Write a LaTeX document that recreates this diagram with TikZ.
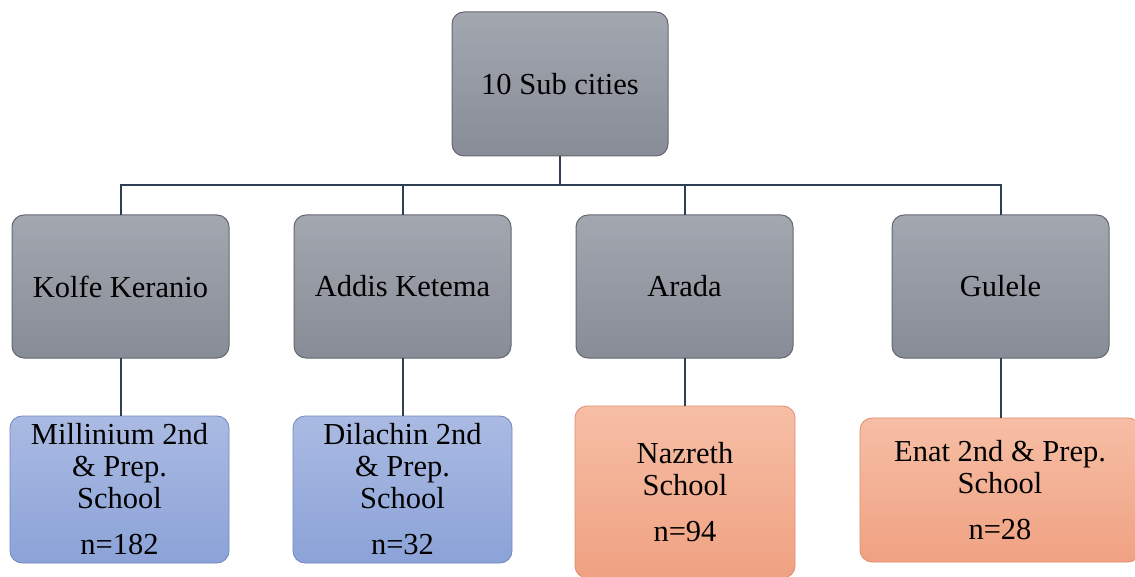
\documentclass[tikz,border=0pt]{standalone}
\usepackage{fontspec}
\setmainfont{Liberation Serif}
\begin{document}
\begin{tikzpicture}[x=1pt,y=-1pt,
  every node/.style={inner sep=0pt, outer sep=0pt, align=center, font=\fontsize{30.5}{32}\selectfont},
  greybox/.style={draw={rgb,255:red,100;green,104;blue,112}, line width=1pt, rounded corners=12pt, top color={rgb,255:red,163;green,167;blue,176}, bottom color={rgb,255:red,136;green,140;blue,150}},
  bluebox/.style={draw={rgb,255:red,112;green,136;blue,192}, line width=0.8pt, rounded corners=12pt, top color={rgb,255:red,170;green,186;blue,226}, bottom color={rgb,255:red,140;green,163;blue,216}},
  orangebox/.style={draw={rgb,255:red,224;green,140;blue,110}, line width=0.8pt, rounded corners=12pt, top color={rgb,255:red,246;green,190;blue,165}, bottom color={rgb,255:red,240;green,162;blue,130}},
  conn/.style={draw={rgb,255:red,47;green,62;blue,85}, line width=2pt}
]
\useasboundingbox (0,0) rectangle (1135,577);
\fill[white] (0,0) rectangle (1135,577);

% level 1
\node[greybox, minimum width=216pt, minimum height=144pt] (top) at (560,84) {10 Sub cities};

% level 2
\node[greybox, minimum width=217pt, minimum height=143pt] (kolfe) at (120.5,286.5) {Kolfe Keranio};
\node[greybox, minimum width=217pt, minimum height=143pt] (addis) at (402.5,286.5) {Addis Ketema};
\node[greybox, minimum width=217pt, minimum height=143pt] (arada) at (684.5,286.5) {Arada};
\node[greybox, minimum width=217pt, minimum height=143pt] (gulele) at (1000.5,286.5) {Gulele};

% level 3
\node[bluebox, minimum width=219pt, minimum height=147pt] (mill) at (119.5,489.5) {Millinium 2nd\\\& Prep.\\School\\[14pt]n=182};
\node[bluebox, minimum width=219pt, minimum height=147pt] (dila) at (402.5,489.5) {Dilachin 2nd\\\& Prep.\\School\\[14pt]n=32};
\node[orangebox, minimum width=220pt, minimum height=172pt] (naz) at (685,492) {Nazreth\\School\\[14pt]n=94};
\node[orangebox, minimum width=280pt, minimum height=144pt] (enat) at (1000,490) {Enat 2nd \& Prep.\\School\\[14pt]n=28};

% connectors
\coordinate (bus) at (560,185);
\draw[conn] (top.south) -- (bus);
\draw[conn] (kolfe.north) |- (bus) -| (gulele.north);
\draw[conn] (addis.north) -- (addis.north |- bus);
\draw[conn] (arada.north) -- (arada.north |- bus);
\draw[conn] (kolfe.south) -- (kolfe.south |- mill.north);
\draw[conn] (addis.south) -- (addis.south |- dila.north);
\draw[conn] (arada.south) -- (arada.south |- naz.north);
\draw[conn] (gulele.south) -- (gulele.south |- enat.north);
\end{tikzpicture}
\end{document}
